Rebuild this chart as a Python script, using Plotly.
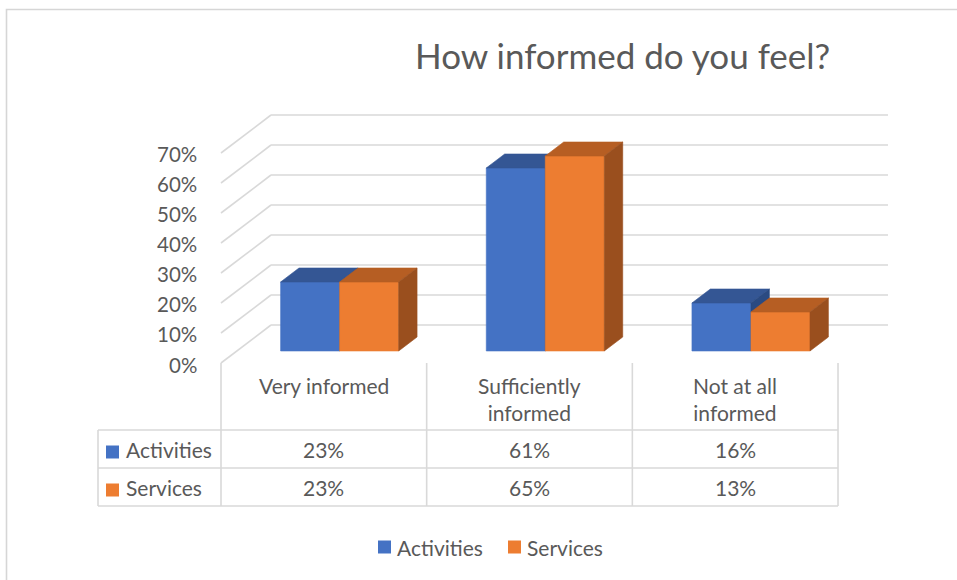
import plotly.graph_objects as go

# ---- data -------------------------------------------------------------
categories = ["Very informed", "Sufficiently<br>informed", "Not at all<br>informed"]
series_names = ["Activities", "Services"]
activities = [23, 61, 16]
services = [23, 65, 13]
tick_values = [0, 10, 20, 30, 40, 50, 60, 70]
title_text = "How informed do you feel?"

series_values = [activities, services]
front_colors = ["#4472C4", "#ED7D31"]
top_colors = ["#345694", "#B65E23"]
side_colors = ["#2A4A82", "#9A4F1E"]

# ---- geometry (axes span the whole canvas, so data units map to pixels) --
W, H = 957, 580
FRONT_LEFT_PX = 221.0
CAT_PX = 205.67          # pixels per category slot
ZERO_PX = 363.0          # pixel row of 0% on the front plane
UNIT_PX = 3.0            # pixels per percentage point
DEPTH_PX = (50.0, -38.0)  # oblique offset from front to back wall


def x_of(px):
    return (px - FRONT_LEFT_PX) / CAT_PX - 0.5


def y_of(py):
    return (ZERO_PX - py) / UNIT_PX


DX = DEPTH_PX[0] / CAT_PX
DY = -DEPTH_PX[1] / UNIT_PX
N = len(categories)
X_LEFT, X_RIGHT = -0.5, N - 0.5

BAR_W = 0.287
GROUP_OFF = 0.5 - BAR_W          # left edge of first bar inside its slot
F0, F1 = 0.316, 0.684            # depth range occupied by the columns

GRID = "#D9D9D9"
TEXT = "#595959"
FONT = "Lato"
TXT_SIZE = 21

fig = go.Figure()
shapes = []
annotations = []


def line(x0, y0, x1, y1, color=GRID, width=1.6):
    shapes.append(dict(type="line", xref="x", yref="y", x0=x0, y0=y0, x1=x1, y1=y1,
                       line=dict(color=color, width=width), layer="below"))


# chart border
shapes.append(dict(type="rect", xref="x", yref="y", x0=x_of(6.5), y0=y_of(9.5),
                   x1=x_of(975), y1=y_of(600), line=dict(color="#D6D6D6", width=1.6),
                   layer="below"))

# back wall and side wall gridlines
for v in tick_values:
    line(X_LEFT, v, X_LEFT + DX, v + DY)
    line(X_LEFT + DX, v + DY, X_RIGHT + DX, v + DY)
    annotations.append(dict(x=X_LEFT, y=v, xref="x", yref="y", text=f"{v}%",
                            showarrow=False, xanchor="right", yanchor="middle",
                            xshift=-22, yshift=-1 if v else -2,
                            font=dict(family=FONT, size=20.5, color=TEXT)))


def face(xs, ys, color):
    fig.add_trace(go.Scatter(x=xs + [xs[0]], y=ys + [ys[0]], mode="lines",
                             fill="toself", fillcolor=color,
                             line=dict(color=color, width=0.6),
                             hoverinfo="skip", showlegend=False))


# columns: front, top and side faces, drawn left to right
for i in range(N):
    for s, vals in enumerate(series_values):
        v = vals[i]
        xl = i - 0.5 + GROUP_OFF + s * BAR_W + F0 * DX
        xr = xl + BAR_W
        yb = F0 * DY
        yt = yb + v
        ddx = (F1 - F0) * DX
        ddy = (F1 - F0) * DY
        face([xl, xr, xr, xl], [yb, yb, yt, yt], front_colors[s])
        face([xl, xr, xr + ddx, xl + ddx], [yt, yt, yt + ddy, yt + ddy], top_colors[s])
        face([xr, xr + ddx, xr + ddx, xr], [yb, yb + ddy, yt + ddy, yt], side_colors[s])

# ---- data table under the plot ------------------------------------------
ROW_TOP, ROW1, ROW2, ROW_BOT = 363.0, 430.0, 468.0, 506.0
TABLE_LEFT_PX = 98.0
for k in range(N + 1):
    xk = X_LEFT + k
    line(xk, y_of(ROW_TOP), xk, y_of(ROW_BOT))
line(x_of(TABLE_LEFT_PX), y_of(ROW1), x_of(TABLE_LEFT_PX), y_of(ROW_BOT))
for r in (ROW1, ROW2, ROW_BOT):
    line(x_of(TABLE_LEFT_PX), y_of(r), X_RIGHT, y_of(r))

for i, cat in enumerate(categories):
    annotations.append(dict(x=i, y=y_of(371), xref="x", yref="y", text=cat,
                            showarrow=False, xanchor="center", yanchor="top",
                            align="center",
                            font=dict(family=FONT, size=TXT_SIZE, color=TEXT)))

row_centers = [(ROW1 + ROW2) / 2, (ROW2 + ROW_BOT) / 2]
for s, vals in enumerate(series_values):
    yc = y_of(row_centers[s])
    for i, v in enumerate(vals):
        annotations.append(dict(x=i, y=yc, xref="x", yref="y", text=f"{v}%",
                                showarrow=False, xanchor="center", yanchor="middle",
                                font=dict(family=FONT, size=TXT_SIZE, color=TEXT)))
    # legend key inside the row header
    shapes.append(dict(type="rect", xref="x", yref="y",
                       x0=x_of(106), x1=x_of(119), y0=yc + 6.5 / UNIT_PX - 1.0,
                       y1=yc - 6.5 / UNIT_PX - 1.0, fillcolor=front_colors[s],
                       line=dict(width=0)))
    annotations.append(dict(x=x_of(124), y=yc, xref="x", yref="y",
                            text=series_names[s], showarrow=False,
                            xanchor="left", yanchor="middle",
                            font=dict(family=FONT, size=TXT_SIZE, color=TEXT)))

# ---- legend ---------------------------------------------------------------
LEG_Y = y_of(547)
legend_keys_px = [378, 508]
for s, name in enumerate(series_names):
    kx = legend_keys_px[s]
    shapes.append(dict(type="rect", xref="x", yref="y",
                       x0=x_of(kx), x1=x_of(kx + 13), y0=LEG_Y - 6.5 / UNIT_PX,
                       y1=LEG_Y + 6.5 / UNIT_PX, fillcolor=front_colors[s],
                       line=dict(width=0)))
    annotations.append(dict(x=x_of(kx + 17), y=LEG_Y, xref="x", yref="y", text=name,
                            showarrow=False, xanchor="left", yanchor="middle",
                            font=dict(family=FONT, size=TXT_SIZE, color=TEXT)))

# ---- title ----------------------------------------------------------------
annotations.append(dict(x=x_of(622), y=y_of(55), xref="x", yref="y", text=title_text,
                        showarrow=False, xanchor="center", yanchor="middle",
                        font=dict(family=FONT, size=35, color=TEXT)))

fig.update_layout(
    width=W, height=H, autosize=False,
    margin=dict(l=0, r=0, t=0, b=0),
    paper_bgcolor="white", plot_bgcolor="white",
    showlegend=False,
    xaxis=dict(range=[x_of(0), x_of(W)], visible=False, fixedrange=True),
    yaxis=dict(range=[y_of(H), y_of(0)], visible=False, fixedrange=True),
    shapes=shapes, annotations=annotations,
)

fig.write_html("out.html", config={"displayModeBar": False})
